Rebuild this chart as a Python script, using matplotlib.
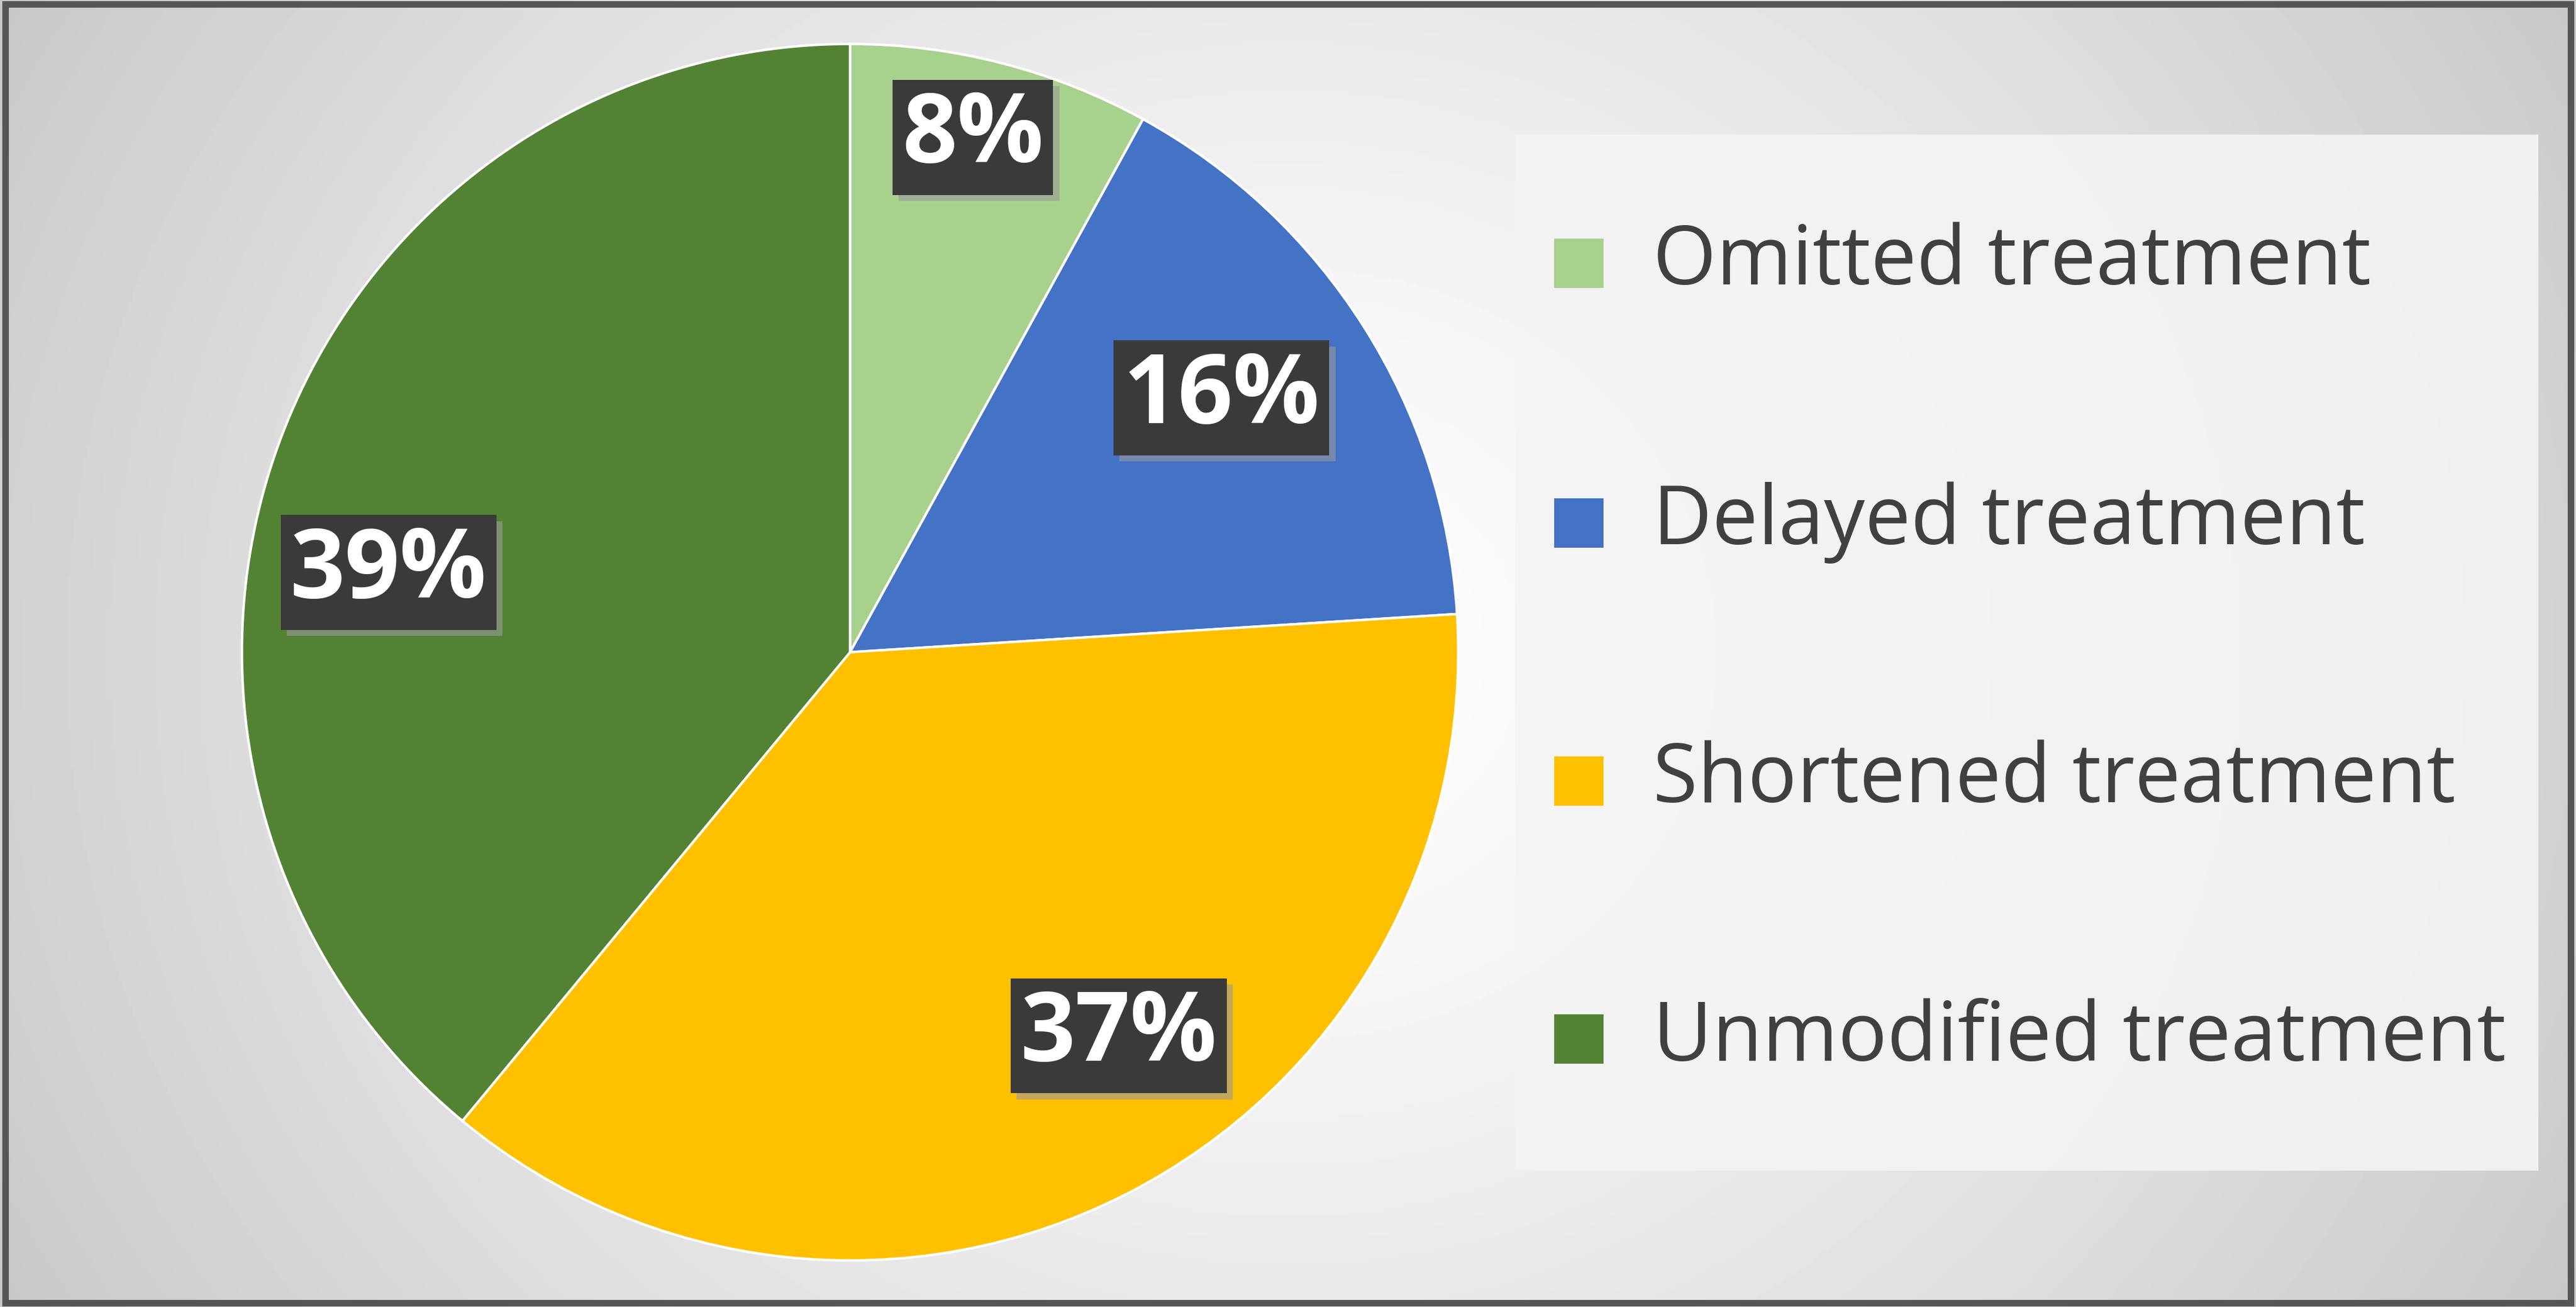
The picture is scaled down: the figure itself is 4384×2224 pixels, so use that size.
import numpy as np
import matplotlib.pyplot as plt
from matplotlib.patches import Rectangle

categories = ["Omitted treatment", "Delayed treatment", "Shortened treatment", "Unmodified treatment"]
values = [8, 16, 37, 39]
colors = ["#A9D18E", "#4472C4", "#FFC000", "#548235"]
label_dist = [0.87, 0.74, 0.77, 0.77]
label_shift = [1, 2, 8, 10]  # degrees, nudges label placement

W, H = 4384, 2224
fig = plt.figure(figsize=(W / 100, H / 100), dpi=100)

# radial gradient background
bg = fig.add_axes([0, 0, 1, 1])
yy, xx = np.mgrid[0:1:400j, 0:1:800j]
d = np.sqrt(((xx - 0.5) * 1.6) ** 2 + ((yy - 0.5) * 0.9) ** 2)
grad = np.clip(1.0 - 0.24 * d ** 1.3, 0, 1)
bg.imshow(grad, cmap="gray", vmin=0, vmax=1, extent=[0, 1, 0, 1], aspect="auto")
bg.add_patch(Rectangle((0.002, 0.003), 0.996, 0.994, fill=False, edgecolor="#555555", lw=8))
bg.axis("off")

# pie
cx, cy, r = 0.330, 0.501, 1035
ax = fig.add_axes([cx - r / W, cy - r / H, 2 * r / W, 2 * r / H])
wedges, _ = ax.pie(values, colors=colors, startangle=90, counterclock=False,
                   wedgeprops=dict(edgecolor="white", linewidth=3))
ax.set_xlim(-1, 1)
ax.set_ylim(-1, 1)
for w, v, dist, sh in zip(wedges, values, label_dist, label_shift):
    ang = np.deg2rad((w.theta1 + w.theta2) / 2 + sh)
    x, y = dist * np.cos(ang), dist * np.sin(ang)
    for dx, dy, fc, tc in [(0.01, -0.01, "#9a9a9a", "none"), (0, 0, "#3a3a3a", "white")]:
        ax.text(x + dx, y + dy, f"{v}%", fontsize=118, fontweight="bold", color=tc,
                ha="center", va="center", family="Open Sans",
                bbox=dict(boxstyle="square,pad=0.1", facecolor=fc, edgecolor="none",
                          alpha=0.6 if tc == "none" else 1))

# legend
bg.add_patch(Rectangle((922 / 1568, 1 - 712 / 795), (1545 - 922) / 1568, (712 - 82) / 795,
                       facecolor="#f4f4f4", edgecolor="none", alpha=0.9))
leg_y = [160, 318, 475, 632]
for name, col, ly in zip(categories, colors, leg_y):
    yf = 1 - ly / 795
    sw, sh = 30 / 1568, 30 / 795
    bg.add_patch(Rectangle((946 / 1568, yf - sh / 2), sw, sh, facecolor=col, edgecolor="none"))
    bg.text(1006 / 1568, yf, name, fontsize=100, color="#404040", va="center", ha="left",
            family="Open Sans")
bg.set_xlim(0, 1)
bg.set_ylim(0, 1)

fig.savefig("out.png", dpi=100)
